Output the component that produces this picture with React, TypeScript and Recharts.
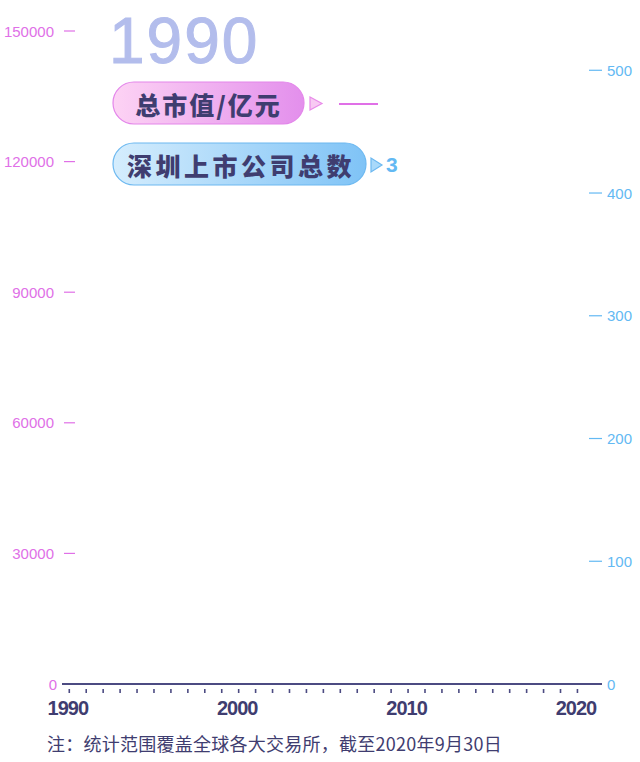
import React from 'react';
import { LineChart, Line, XAxis, YAxis } from 'recharts';

// ---- data ----
const years: number[] = [1990];
const marketCap: (number | null)[] = [null]; // 总市值/亿元 (no value yet)
const companies: number[] = [3]; // 深圳上市公司总数

const yearTicks: number[] = [
  1990, 1991, 1992, 1993, 1994, 1995, 1996, 1997, 1998, 1999,
  2000, 2001, 2002, 2003, 2004, 2005, 2006, 2007, 2008, 2009,
  2010, 2011, 2012, 2013, 2014, 2015, 2016, 2017, 2018, 2019, 2020,
];
const yearLabels: number[] = [1990, 2000, 2010, 2020];
const leftTicks: number[] = [0, 30000, 60000, 90000, 120000, 150000];
const rightTicks: number[] = [0, 100, 200, 300, 400, 500];

const seriesNames = ['总市值/亿元', '深圳上市公司总数'];
const footnote = '注：统计范围覆盖全球各大交易所，截至2020年9月30日';

// ---- styles ----
const PINK = '#e070e7';
const BLUE = '#63b9f3';
const NAVY = '#3f3d70';
const AXIS = '#4c4b82';
const FONT = '"Liberation Sans", Arial, "Noto Sans CJK SC", sans-serif';
const CJK = '"Noto Sans CJK SC", "Liberation Sans", sans-serif';

const data = years.map((y, i) => ({ year: y, cap: marketCap[i], companies: companies[i] }));

const LeftTick = (props: any) => {
  const { x, y, payload } = props;
  const v = payload.value;
  const zero = v === 0;
  return (
    <g>
      <text x={x + (zero ? 3 : 0)} y={y} textAnchor="end" dominantBaseline="central" fill={PINK} fontSize={15} fontFamily={FONT}>
        {v}
      </text>
      {!zero && <line x1={x + 10} x2={x + 21} y1={y} y2={y} stroke={PINK} strokeWidth={1.2} />}
    </g>
  );
};

const RightTick = (props: any) => {
  const { x, y, payload } = props;
  const v = payload.value;
  const zero = v === 0;
  return (
    <g>
      <text x={x - 3} y={y} textAnchor="start" dominantBaseline="central" fill={BLUE} fontSize={15} fontFamily={FONT}>
        {v}
      </text>
      {!zero && <line x1={x - 21} x2={x - 8} y1={y} y2={y} stroke={BLUE} strokeWidth={1.2} />}
    </g>
  );
};

const BottomTick = (props: any) => {
  const { x, y, payload } = props;
  const v = payload.value;
  return (
    <g>
      <line x1={x} x2={x} y1={y - 3} y2={y + 1} stroke={AXIS} strokeWidth={1.6} />
      {yearLabels.includes(v) && (
        <text x={x - 1.5} y={y + 15.5} textAnchor="middle" dominantBaseline="central" fill={NAVY} fontSize={20} fontWeight={700} letterSpacing={-1} fontFamily={FONT}>
          {v}
        </text>
      )}
    </g>
  );
};

// no point markers are shown in the reference
const NoDot = (props: any) => <g key={`d-${props.index}`} />;

export default function App() {
  const current = data[0];
  return (
    <div style={{ position: 'absolute', left: 0, top: 0, width: 640, height: 762, background: '#fff' }}>
      <LineChart width={640} height={762} data={data} margin={{ top: 31, right: 0, bottom: 0, left: 0 }}>
        <XAxis
          dataKey="year"
          type="number"
          domain={[1989.57, 2021.45]}
          allowDataOverflow
          ticks={yearTicks}
          interval={0}
          height={78}
          tickLine={false}
          tickSize={6}
          tickMargin={2}
          axisLine={{ stroke: AXIS, strokeWidth: 2 }}
          tick={<BottomTick />}
        />
        <YAxis
          yAxisId="left"
          orientation="left"
          type="number"
          width={62}
          domain={[0, 150000]}
          allowDataOverflow
          ticks={leftTicks}
          interval={0}
          tickLine={false}
          axisLine={false}
          tickSize={6}
          tickMargin={2}
          tick={<LeftTick />}
        />
        <YAxis
          yAxisId="right"
          orientation="right"
          type="number"
          width={38}
          domain={[0, 532]}
          allowDataOverflow
          ticks={rightTicks}
          interval={0}
          tickLine={false}
          axisLine={false}
          tickSize={6}
          tickMargin={2}
          tick={<RightTick />}
        />
        <Line yAxisId="left" dataKey="cap" stroke={PINK} strokeWidth={2} dot={NoDot} activeDot={false} isAnimationActive={false} />
        <Line yAxisId="right" dataKey="companies" stroke={BLUE} strokeWidth={2} dot={NoDot} activeDot={false} isAnimationActive={false} />
      </LineChart>
      <svg width={640} height={762} style={{ position: 'absolute', left: 0, top: 0, pointerEvents: 'none' }}>
        <defs>
          <linearGradient id="gPink" x1="0" y1="0" x2="1" y2="0">
            <stop offset="0%" stopColor="#fdd3f4" />
            <stop offset="100%" stopColor="#e38fec" />
          </linearGradient>
          <linearGradient id="gBlue" x1="0" y1="0" x2="1" y2="0">
            <stop offset="0%" stopColor="#d5edfd" />
            <stop offset="100%" stopColor="#7fc3f6" />
          </linearGradient>
        </defs>
        <text x={109} y={63} fill="#b3bdec" fontSize={64} letterSpacing={2} stroke="#b3bdec" strokeWidth={1} fontFamily={FONT}>
          {current.year}
        </text>
        <rect x={113} y={82} width={191} height={42} rx={21} ry={21} fill="url(#gPink)" stroke="#e385ea" strokeWidth={1.2} />
        <text x={208.5} y={103.5} textAnchor="middle" dominantBaseline="central" fill={NAVY} fontSize={25} fontWeight={900} letterSpacing={2} fontFamily={CJK}>
          {seriesNames[0]}
        </text>
        <polygon points="310,97 310,110 322,103.5" fill="#f8caf3" stroke="#e88be9" strokeWidth={1.2} />
        <line x1={339} x2={378} y1={104} y2={104} stroke={PINK} strokeWidth={2} />
        <rect x={113} y={143} width={253} height={42} rx={21} ry={21} fill="url(#gBlue)" stroke="#6cb8f0" strokeWidth={1.2} />
        <text x={241} y={164.5} textAnchor="middle" dominantBaseline="central" fill={NAVY} fontSize={25} fontWeight={900} letterSpacing={3.5} fontFamily={CJK}>
          {seriesNames[1]}
        </text>
        <polygon points="371,158 371,172 382,165" fill="#a9d9fa" stroke="#6cb8f0" strokeWidth={1.2} />
        <text x={386} y={164} dominantBaseline="central" fill={BLUE} fontSize={21} fontWeight={700} fontFamily={FONT}>
          {current.companies}
        </text>
        <text x={47} y={743} dominantBaseline="central" fill={NAVY} fontSize={18} letterSpacing={0.25} fontFamily={CJK}>
          {footnote}
        </text>
      </svg>
    </div>
  );
}
